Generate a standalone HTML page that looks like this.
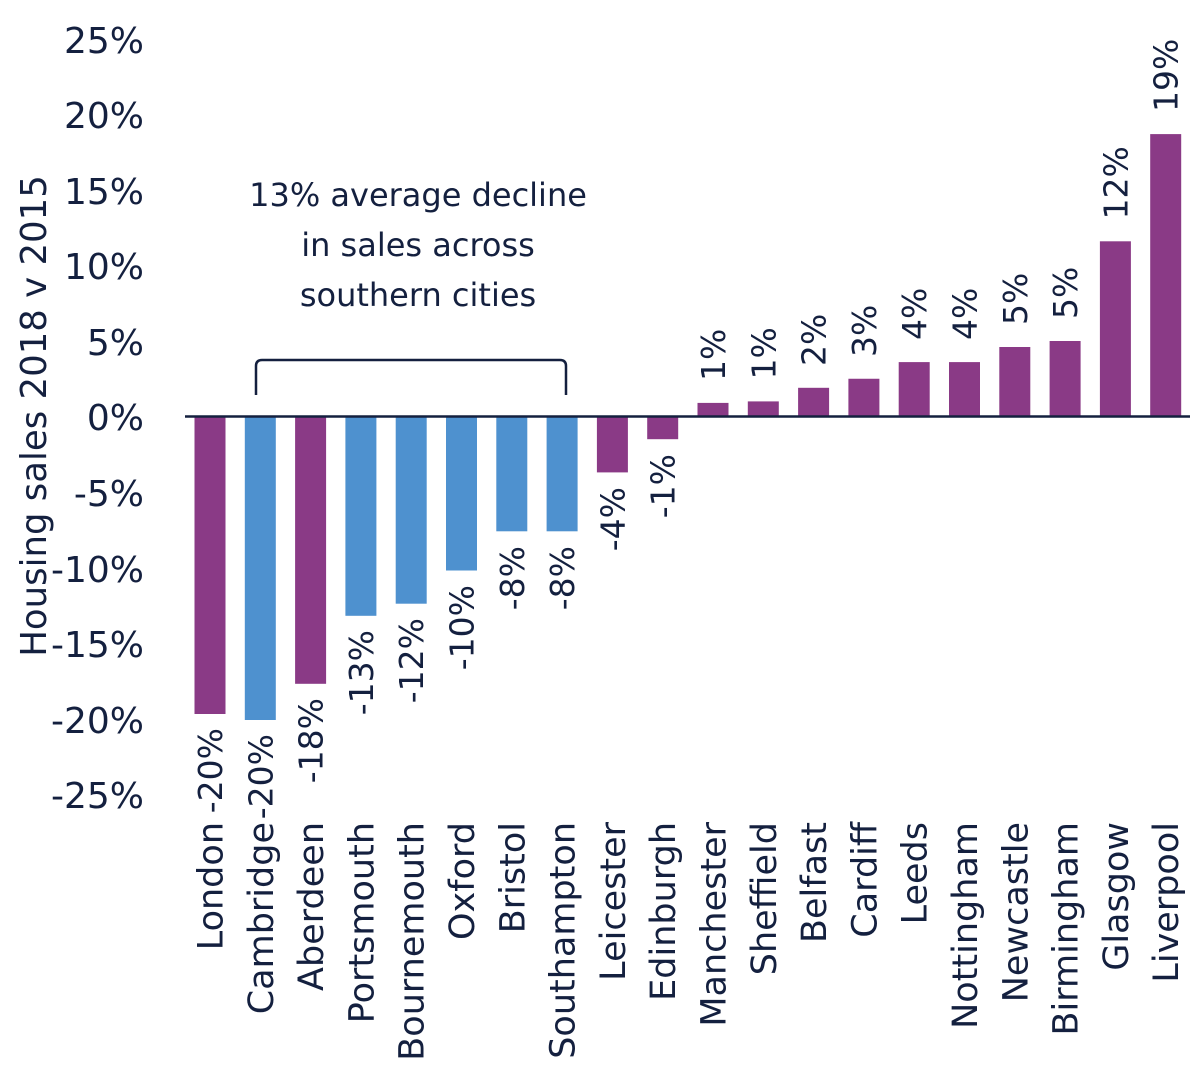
<!DOCTYPE html>
<html><head><meta charset="utf-8"><style>
html,body{margin:0;padding:0;background:#fff;}
svg{display:block;}
text{font-family:"DejaVu Sans","Liberation Sans",sans-serif;fill:#14203f;}
</style></head><body>
<svg width="1200" height="1087" viewBox="0 0 1200 1087" xmlns="http://www.w3.org/2000/svg">
<g font-size="36" text-anchor="end">
<text x="144" y="53">25%</text>
<text x="144" y="128">20%</text>
<text x="144" y="204">15%</text>
<text x="144" y="279">10%</text>
<text x="144" y="355">5%</text>
<text x="144" y="430">0%</text>
<text x="144" y="506">-5%</text>
<text x="144" y="582">-10%</text>
<text x="144" y="657">-15%</text>
<text x="144" y="733">-20%</text>
<text x="144" y="808">-25%</text>
</g>
<text transform="translate(46,416) rotate(-90)" font-size="35.5" text-anchor="middle">Housing sales 2018 v 2015</text>
<g font-size="32" text-anchor="middle">
<text x="418" y="206">13% average decline</text>
<text x="418" y="256">in sales across</text>
<text x="418" y="306">southern cities</text>
</g>
<path d="M256,395 V366 Q256,360 262,360 H560 Q566,360 566,366 V395" fill="none" stroke="#14203f" stroke-width="2.5"/>
<g fill="#8a3a86">
<rect x="194.5" y="416.5" width="31" height="297.5"/>
<rect x="295.1" y="416.5" width="31" height="267.3"/>
<rect x="596.9" y="416.5" width="31" height="55.9"/>
<rect x="647.2" y="416.5" width="31" height="22.7"/>
<rect x="697.5" y="402.9" width="31" height="13.6"/>
<rect x="747.8" y="401.4" width="31" height="15.1"/>
<rect x="798.1" y="387.8" width="31" height="28.7"/>
<rect x="848.4" y="378.75" width="31" height="37.75"/>
<rect x="898.7" y="362.1" width="31" height="54.4"/>
<rect x="949" y="362.1" width="31" height="54.4"/>
<rect x="999.3" y="347" width="31" height="69.5"/>
<rect x="1049.6" y="341" width="31" height="75.5"/>
<rect x="1099.9" y="241.3" width="31" height="175.2"/>
<rect x="1150.2" y="134.1" width="31" height="282.4"/>
</g>
<g fill="#4e91cf">
<rect x="244.8" y="416.5" width="31" height="303.5"/>
<rect x="345.4" y="416.5" width="31" height="199.3"/>
<rect x="395.7" y="416.5" width="31" height="187.2"/>
<rect x="446" y="416.5" width="31" height="154"/>
<rect x="496.3" y="416.5" width="31" height="114.8"/>
<rect x="546.6" y="416.5" width="31" height="114.8"/>
</g>
<line x1="185" y1="416.5" x2="1190" y2="416.5" stroke="#14203f" stroke-width="2.5"/>
<g font-size="33" text-anchor="end">
<text transform="translate(222,728) rotate(-90)">-20%</text>
<text transform="translate(272.3,734) rotate(-90)">-20%</text>
<text transform="translate(322.6,698) rotate(-90)">-18%</text>
<text transform="translate(372.9,630) rotate(-90)">-13%</text>
<text transform="translate(423.2,618) rotate(-90)">-12%</text>
<text transform="translate(473.5,585) rotate(-90)">-10%</text>
<text transform="translate(523.8,546) rotate(-90)">-8%</text>
<text transform="translate(574.1,546) rotate(-90)">-8%</text>
<text transform="translate(624.4,487) rotate(-90)">-4%</text>
<text transform="translate(674.7,454) rotate(-90)">-1%</text>
</g>
<g font-size="33">
<text transform="translate(725,381) rotate(-90)">1%</text>
<text transform="translate(775.3,379.5) rotate(-90)">1%</text>
<text transform="translate(825.6,366) rotate(-90)">2%</text>
<text transform="translate(875.9,357) rotate(-90)">3%</text>
<text transform="translate(926.2,340) rotate(-90)">4%</text>
<text transform="translate(976.5,340) rotate(-90)">4%</text>
<text transform="translate(1026.8,325) rotate(-90)">5%</text>
<text transform="translate(1077.1,319) rotate(-90)">5%</text>
<text transform="translate(1127.4,219.5) rotate(-90)">12%</text>
<text transform="translate(1177.7,112) rotate(-90)">19%</text>
</g>
<g font-size="35" text-anchor="end">
<text transform="translate(222.5,822) rotate(-90)">London</text>
<text transform="translate(272.8,822) rotate(-90)">Cambridge</text>
<text transform="translate(323.1,822) rotate(-90)">Aberdeen</text>
<text transform="translate(373.4,822) rotate(-90)">Portsmouth</text>
<text transform="translate(423.7,822) rotate(-90)">Bournemouth</text>
<text transform="translate(474,822) rotate(-90)">Oxford</text>
<text transform="translate(524.3,822) rotate(-90)">Bristol</text>
<text transform="translate(574.6,822) rotate(-90)">Southampton</text>
<text transform="translate(624.9,822) rotate(-90)">Leicester</text>
<text transform="translate(675.2,822) rotate(-90)">Edinburgh</text>
<text transform="translate(725.5,822) rotate(-90)">Manchester</text>
<text transform="translate(775.8,822) rotate(-90)">Sheffield</text>
<text transform="translate(826.1,822) rotate(-90)">Belfast</text>
<text transform="translate(876.4,822) rotate(-90)">Cardiff</text>
<text transform="translate(926.7,822) rotate(-90)">Leeds</text>
<text transform="translate(977,822) rotate(-90)">Nottingham</text>
<text transform="translate(1027.3,822) rotate(-90)">Newcastle</text>
<text transform="translate(1077.6,822) rotate(-90)">Birmingham</text>
<text transform="translate(1127.9,822) rotate(-90)">Glasgow</text>
<text transform="translate(1178.2,822) rotate(-90)">Liverpool</text>
</g>
</svg>
</body></html>
